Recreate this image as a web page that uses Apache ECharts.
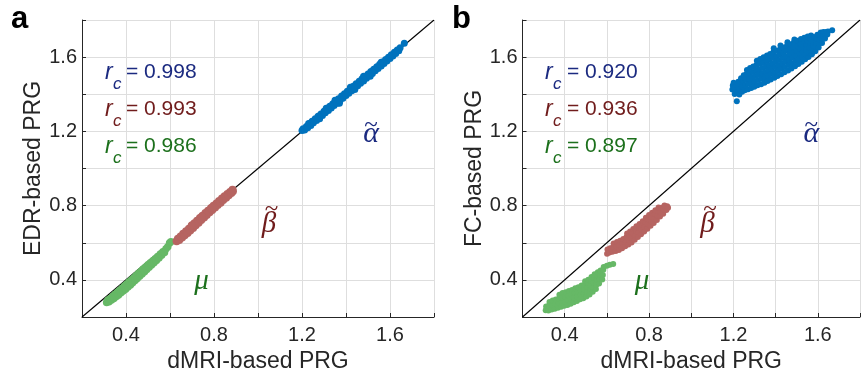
<!DOCTYPE html>
<html>
<head>
<meta charset="utf-8">
<script src="https://cdn.jsdelivr.net/npm/echarts@6/dist/echarts.min.js"></script>
<style>html,body{margin:0;padding:0;background:#fff;}#c{width:863px;height:378px;}</style>
</head>
<body>
<div id="c"></div>
<script>
// ---- data ----
const tickLabels = [0.4, 0.8, 1.2, 1.6];
const identity = [[0.2, 0.2], [1.8, 1.8]];
const rcA = ['0.998', '0.993', '0.986'];
const rcB = ['0.920', '0.936', '0.897'];
const xName = 'dMRI-based PRG';
const yNameA = 'EDR-based PRG';
const yNameB = 'FC-based PRG';

const aAlpha = [
[1.200,1.205],[1.205,1.214],[1.212,1.208],[1.220,1.226],[1.226,1.219],[1.230,1.243],[1.233,1.240],[1.240,1.232],[1.246,1.254],[1.252,1.246],
[1.260,1.268],[1.266,1.259],[1.273,1.281],[1.280,1.268],[1.280,1.273],[1.286,1.294],[1.293,1.286],[1.300,1.309],[1.306,1.300],[1.310,1.325],
[1.313,1.322],[1.320,1.313],[1.326,1.336],[1.333,1.326],[1.340,1.349],[1.346,1.339],[1.350,1.368],[1.353,1.363],[1.360,1.352],[1.366,1.376],
[1.370,1.352],[1.373,1.366],[1.380,1.390],[1.386,1.379],[1.393,1.403],[1.400,1.393],[1.406,1.416],[1.413,1.406],[1.420,1.438],[1.420,1.430],
[1.426,1.419],[1.433,1.443],[1.440,1.425],[1.440,1.433],[1.446,1.456],[1.453,1.446],[1.460,1.470],[1.466,1.459],[1.473,1.483],[1.480,1.497],
[1.480,1.472],[1.486,1.496],[1.493,1.486],[1.500,1.509],[1.506,1.499],[1.510,1.497],[1.513,1.522],[1.520,1.512],[1.526,1.535],[1.533,1.526],
[1.540,1.548],[1.546,1.539],[1.553,1.561],[1.560,1.572],[1.560,1.552],[1.566,1.574],[1.573,1.566],[1.580,1.587],[1.586,1.579],[1.593,1.600],
[1.600,1.593],[1.606,1.613],[1.613,1.606],[1.620,1.626],[1.626,1.620],[1.633,1.638],[1.640,1.634],[1.646,1.650],[1.665,1.675]
];
const aBeta = [
[0.630,0.608],[0.636,0.622],[0.642,0.615],[0.648,0.634],[0.655,0.628],[0.660,0.648],[0.667,0.640],[0.673,0.662],[0.680,0.652],[0.686,0.676],
[0.692,0.666],[0.698,0.690],[0.705,0.680],[0.711,0.705],[0.717,0.694],[0.723,0.719],[0.730,0.708],[0.736,0.733],[0.742,0.722],[0.748,0.746],
[0.755,0.736],[0.761,0.760],[0.767,0.750],[0.773,0.773],[0.780,0.764],[0.786,0.786],[0.792,0.777],[0.798,0.799],[0.805,0.790],[0.811,0.812],
[0.817,0.803],[0.823,0.825],[0.830,0.816],[0.836,0.838],[0.842,0.830],[0.848,0.850],[0.855,0.843],[0.861,0.862],[0.867,0.856],[0.873,0.873],
[0.879,0.868],[0.884,0.885],[0.886,0.878],[0.700,0.694],[0.745,0.740],[0.790,0.788]
];
const aMu = [
[0.312,0.278],[0.318,0.292],[0.323,0.282],[0.328,0.300],[0.334,0.292],[0.340,0.312],[0.345,0.300],[0.350,0.322],[0.356,0.310],[0.361,0.333],
[0.366,0.318],[0.370,0.340],[0.372,0.344],[0.377,0.330],[0.382,0.355],[0.387,0.340],[0.393,0.367],[0.398,0.350],[0.400,0.372],[0.404,0.378],
[0.409,0.362],[0.414,0.390],[0.420,0.372],[0.425,0.401],[0.430,0.385],[0.436,0.412],[0.440,0.410],[0.441,0.396],[0.446,0.424],[0.451,0.407],
[0.457,0.436],[0.462,0.420],[0.468,0.447],[0.473,0.432],[0.478,0.458],[0.480,0.450],[0.484,0.444],[0.489,0.470],[0.494,0.456],[0.500,0.481],
[0.505,0.468],[0.511,0.492],[0.516,0.480],[0.520,0.490],[0.522,0.503],[0.527,0.492],[0.533,0.514],[0.538,0.505],[0.544,0.526],[0.550,0.518],
[0.556,0.540],[0.562,0.532],[0.568,0.552],[0.575,0.548],[0.582,0.568],[0.590,0.578],[0.598,0.598],[0.604,0.606]
];

const bAlpha = [
[1.195,1.425],[1.197,1.447],[1.201,1.462],[1.206,1.402],[1.208,1.433],[1.212,1.451],[1.216,1.362],[1.218,1.412],[1.221,1.441],[1.223,1.468],
[1.228,1.398],[1.230,1.427],[1.233,1.455],[1.236,1.486],[1.241,1.414],[1.243,1.442],[1.246,1.471],[1.249,1.502],
[1.254,1.421],[1.256,1.449],[1.259,1.478],[1.262,1.508],[1.264,1.530],
[1.269,1.427],[1.272,1.456],[1.274,1.484],[1.277,1.513],[1.279,1.541],
[1.284,1.433],[1.287,1.462],[1.289,1.491],[1.292,1.520],[1.294,1.549],
[1.299,1.440],[1.301,1.469],[1.304,1.498],[1.307,1.528],[1.309,1.557],[1.311,1.580],
[1.314,1.448],[1.317,1.477],[1.319,1.506],[1.322,1.535],[1.324,1.564],[1.327,1.590],
[1.331,1.454],[1.333,1.483],[1.336,1.512],[1.338,1.541],[1.341,1.571],[1.343,1.600],
[1.347,1.462],[1.349,1.491],[1.352,1.520],[1.354,1.549],[1.357,1.579],[1.359,1.609],
[1.362,1.471],[1.364,1.500],[1.367,1.529],[1.369,1.558],[1.372,1.588],[1.374,1.617],
[1.377,1.480],[1.379,1.509],[1.382,1.538],[1.384,1.567],[1.387,1.597],[1.389,1.626],[1.391,1.648],
[1.394,1.489],[1.396,1.518],[1.399,1.547],[1.401,1.576],[1.404,1.605],[1.406,1.634],
[1.409,1.498],[1.411,1.527],[1.414,1.556],[1.416,1.585],[1.419,1.614],[1.421,1.643],[1.423,1.662],
[1.426,1.508],[1.428,1.537],[1.431,1.566],[1.433,1.595],[1.436,1.624],[1.438,1.652],
[1.442,1.518],[1.444,1.547],[1.447,1.576],[1.449,1.605],[1.452,1.634],[1.454,1.661],[1.456,1.680],
[1.459,1.528],[1.461,1.557],[1.464,1.586],[1.466,1.615],[1.469,1.643],[1.471,1.670],
[1.475,1.539],[1.477,1.567],[1.480,1.596],[1.482,1.625],[1.485,1.653],[1.487,1.680],[1.489,1.695],
[1.492,1.551],[1.494,1.579],[1.497,1.607],[1.499,1.635],[1.502,1.662],[1.504,1.688],
[1.508,1.563],[1.510,1.591],[1.513,1.618],[1.515,1.645],[1.518,1.671],[1.520,1.697],
[1.524,1.575],[1.526,1.602],[1.529,1.629],[1.531,1.655],[1.534,1.680],[1.536,1.704],
[1.540,1.588],[1.542,1.614],[1.545,1.640],[1.547,1.665],[1.550,1.689],[1.552,1.711],
[1.556,1.601],[1.558,1.626],[1.561,1.651],[1.563,1.675],[1.566,1.698],[1.568,1.716],
[1.572,1.615],[1.574,1.639],[1.577,1.663],[1.579,1.686],[1.582,1.708],
[1.588,1.632],[1.590,1.655],[1.593,1.678],[1.595,1.700],[1.598,1.720],
[1.604,1.652],[1.606,1.674],[1.609,1.696],[1.611,1.717],[1.614,1.733],
[1.620,1.676],[1.622,1.697],[1.625,1.717],[1.627,1.736],
[1.634,1.700],[1.637,1.719],[1.640,1.736],[1.645,1.722],[1.648,1.738],
[1.668,1.745]
];
const bBeta = [
[0.601,0.541],[0.603,0.564],[0.612,0.547],[0.615,0.571],[0.626,0.552],[0.629,0.576],[0.632,0.596],
[0.642,0.556],[0.645,0.581],[0.648,0.604],[0.657,0.561],[0.660,0.586],[0.663,0.611],
[0.672,0.571],[0.675,0.596],[0.678,0.620],[0.687,0.581],[0.690,0.606],[0.693,0.631],[0.696,0.650],
[0.702,0.591],[0.705,0.616],[0.708,0.640],[0.710,0.661],[0.717,0.601],[0.720,0.626],[0.723,0.651],[0.725,0.674],
[0.732,0.616],[0.735,0.641],[0.738,0.666],[0.740,0.689],[0.747,0.631],[0.750,0.656],[0.753,0.680],[0.755,0.701],
[0.762,0.646],[0.765,0.671],[0.768,0.695],[0.770,0.716],[0.777,0.661],[0.780,0.686],[0.783,0.711],[0.785,0.735],
[0.792,0.676],[0.795,0.701],[0.798,0.726],[0.800,0.750],[0.807,0.691],[0.810,0.716],[0.813,0.740],[0.815,0.761],
[0.822,0.706],[0.825,0.731],[0.828,0.755],[0.830,0.775],[0.837,0.722],[0.840,0.746],[0.843,0.770],[0.845,0.790],
[0.852,0.741],[0.855,0.765],[0.858,0.789],[0.867,0.756],[0.870,0.780],[0.873,0.801],[0.882,0.776],[0.886,0.796],[0.890,0.788]
];
const bMu = [
[0.310,0.236],[0.312,0.256],[0.323,0.235],[0.325,0.260],[0.328,0.281],
[0.338,0.240],[0.341,0.265],[0.343,0.289],[0.353,0.245],[0.356,0.270],[0.358,0.294],
[0.368,0.250],[0.371,0.275],[0.373,0.300],[0.375,0.320],[0.383,0.255],[0.386,0.280],[0.388,0.305],[0.390,0.329],
[0.398,0.260],[0.401,0.285],[0.403,0.310],[0.405,0.334],[0.413,0.265],[0.416,0.290],[0.418,0.315],[0.420,0.340],
[0.428,0.271],[0.431,0.295],[0.433,0.320],[0.435,0.345],[0.443,0.280],[0.446,0.305],[0.448,0.330],[0.450,0.355],
[0.458,0.286],[0.461,0.310],[0.463,0.335],[0.465,0.360],[0.473,0.295],[0.476,0.320],[0.478,0.345],[0.480,0.370],
[0.488,0.301],[0.491,0.325],[0.493,0.350],[0.495,0.375],[0.497,0.392],
[0.503,0.311],[0.506,0.335],[0.508,0.360],[0.510,0.385],[0.512,0.401],
[0.518,0.321],[0.521,0.345],[0.523,0.370],[0.525,0.395],[0.527,0.415],
[0.533,0.336],[0.536,0.360],[0.538,0.385],[0.540,0.410],[0.542,0.430],
[0.548,0.351],[0.551,0.375],[0.553,0.400],[0.555,0.425],[0.557,0.441],
[0.563,0.381],[0.566,0.405],[0.568,0.430],[0.570,0.450],
[0.578,0.402],[0.581,0.426],[0.583,0.455],[0.585,0.470],
[0.600,0.476],[0.614,0.481],[0.630,0.486]
];

// ---- styles ----
const C_ALPHA = '#0072BD', C_BETA = '#B66461', C_MU = '#66B866';
const T_ALPHA = '#1b2a80', T_BETA = '#701c1c', T_MU = '#1c701c';
const AX = '#262626', GRIDC = '#dedede';
const SANS = '"Liberation Sans", Arial, Helvetica, sans-serif';
const SERIF = '"Liberation Serif", "Times New Roman", serif';

function xAx(gi) {
  return {
    type: 'value', gridIndex: gi, min: 0.2, max: 1.8, interval: 0.2,
    name: xName, nameLocation: 'middle', nameGap: 33,
    nameTextStyle: { fontSize: 23, color: AX, fontFamily: SANS },
    axisLine: { show: true, onZero: false, lineStyle: { color: AX, width: 1 } },
    axisTick: { show: true, inside: true, length: 4, lineStyle: { color: AX } },
    splitLine: { show: true, lineStyle: { color: GRIDC, width: 1 } },
    axisLabel: {
      fontSize: 20, color: AX, fontFamily: SANS, margin: 8,
      formatter: v => tickLabels.some(t => Math.abs(t - v) < 1e-6) ? v.toFixed(1) : ''
    }
  };
}
function yAx(gi, name) {
  return {
    type: 'value', gridIndex: gi, min: 0.2, max: 1.8, interval: 0.2,
    name: name, nameLocation: 'middle', nameGap: 36,
    nameTextStyle: { fontSize: 23, color: AX, fontFamily: SANS },
    axisLine: { show: true, onZero: false, lineStyle: { color: AX, width: 1 } },
    axisTick: { show: true, inside: true, length: 4, lineStyle: { color: AX } },
    splitLine: { show: true, lineStyle: { color: GRIDC, width: 1 } },
    axisLabel: {
      fontSize: 20, color: AX, fontFamily: SANS, margin: 5,
      formatter: v => tickLabels.some(t => Math.abs(t - v) < 1e-6) ? v.toFixed(1) : ''
    }
  };
}
function sc(gi, data, color, size) {
  return { type: 'scatter', xAxisIndex: gi, yAxisIndex: gi, data: data, symbolSize: size,
    itemStyle: { color: color, opacity: 1 }, z: 3, silent: true };
}
function diag(gi) {
  return { type: 'line', xAxisIndex: gi, yAxisIndex: gi, data: identity, showSymbol: false,
    lineStyle: { color: '#000', width: 1.1 }, z: 2, silent: true };
}

// annotations
function txt(x, y, text, o) {
  return { type: 'text', x: x, y: y, z: 10, silent: true,
    style: Object.assign({ text: text, fontFamily: SANS, fontSize: 21, fill: AX, align: 'left', verticalAlign: 'middle' }, o) };
}
const graphics = [];
graphics.push(txt(11, 19, 'a', { fontSize: 31, fontWeight: 'bold', fill: '#000' }));
graphics.push(txt(452, 19, 'b', { fontSize: 31, fontWeight: 'bold', fill: '#000' }));
const rcColors = [T_ALPHA, T_BETA, T_MU];
[[rcA, 105, 126], [rcB, 545, 567]].forEach(([vals, rx, ex]) => {
  vals.forEach((v, i) => {
    const base = 80 + i * 37;
    const col = rcColors[i];
    graphics.push(txt(rx, base - 7.5, 'r', { fontStyle: 'italic', fill: col, fontSize: 23 }));
    graphics.push(txt(rx + 8, base + 4.5, 'c', { fontStyle: 'italic', fill: col, fontSize: 17 }));
    graphics.push(txt(ex, base - 7.5, '= ' + v, { fill: col, fontSize: 21 }));
  });
});
[[0, 371, 270, 201.5], [440.5, 811.3, 708.5, 642]].forEach(([dx, ax, bx, mx]) => {
  graphics.push(txt(ax, 134, 'α', { fontFamily: SERIF, fontStyle: 'italic', fontSize: 30, fill: T_ALPHA, align: 'center' }));
  graphics.push(txt(ax, 125, '~', { fontFamily: SERIF, fontSize: 25, fill: T_ALPHA, align: 'center' }));
  graphics.push(txt(bx - 1, 224, 'β', { fontFamily: SERIF, fontStyle: 'italic', fontSize: 29, fill: T_BETA, align: 'center' }));
  graphics.push(txt(bx + 1.5, 209.5, '~', { fontFamily: SERIF, fontSize: 25, fill: T_BETA, align: 'center' }));
  graphics.push(txt(mx, 281, 'μ', { fontFamily: SERIF, fontStyle: 'italic', fontSize: 29, fill: T_MU, align: 'center' }));
});

const chart = echarts.init(document.getElementById('c'), null, { renderer: 'canvas' });
chart.setOption({
  animation: false,
  backgroundColor: '#fff',
  grid: [
    { left: 82, top: 20, width: 352, height: 297 },
    { left: 522.5, top: 20, width: 353, height: 297 }
  ],
  xAxis: [xAx(0), xAx(1)],
  yAxis: [yAx(0, yNameA), yAx(1, yNameB)],
  series: [
    diag(0), sc(0, aMu, C_MU, 7.5), sc(0, aBeta, C_BETA, 8), sc(0, aAlpha, C_ALPHA, 7),
    diag(1), sc(1, bMu, C_MU, 6), sc(1, bBeta, C_BETA, 6), sc(1, bAlpha, C_ALPHA, 6)
  ],
  graphic: graphics
});
</script>
</body>
</html>
